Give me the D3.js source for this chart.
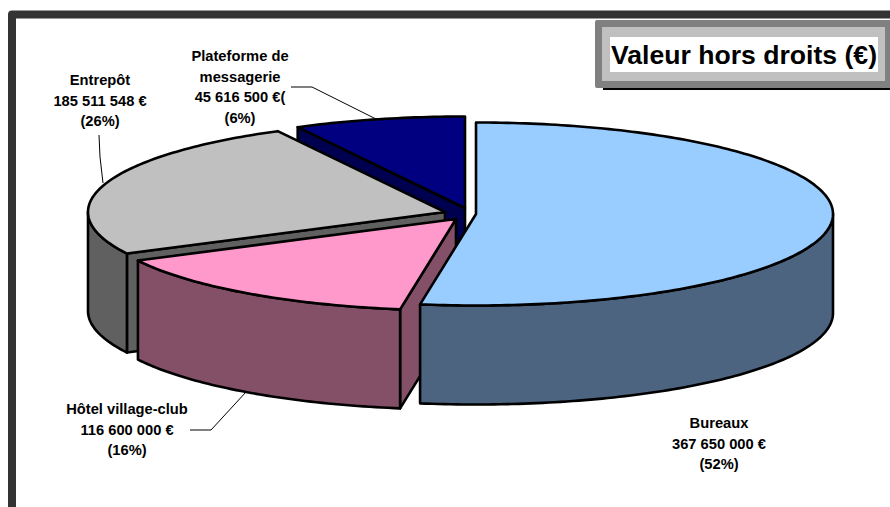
<!DOCTYPE html>
<html><head><meta charset="utf-8">
<style>html,body{margin:0;padding:0;background:#fff}svg{display:block}text{font-family:"Liberation Sans",Arial,sans-serif}</style>
<script src="https://cdnjs.cloudflare.com/ajax/libs/d3/7.8.5/d3.min.js"></script>
</head><body><svg id="c" width="890" height="507"></svg>
<script>
const categories = ["Bureaux","Hôtel village-club","Entrepôt","Plateforme de messagerie"];
const values = [367650000,116600000,185511548,45616500];
const topColors = ["#99CCFF","#FF99CC","#C0C0C0","#000080"];
const wallColors = ["#4D6480","#835068","#606060","#000050"];
const labelLines = [
  ["Bureaux","367 650 000 €","(52%)"],
  ["Hôtel village-club","116 600 000 €","(16%)"],
  ["Entrepôt","185 511 548 €","(26%)"],
  ["Plateforme de","messagerie","45 616 500 €(","(6%)"]
];
const titleText = "Valeur hors droits (€)";

const svg = d3.select("#c");
const rx = 357, ry = 91.5, depth = 99;
const apexes = [[476,214],[456,219],[445,212],[465,208]];
// Perspective correction of the 3-D view: true pie angle to drawn ellipse angle (degrees)
const warp = d3.scaleLinear().domain([0,185,243.7,337,360]).range([0,189,243,332,360]);
const arcs = d3.pie().value(d=>d).sort(null)(values);

function rim(c,deg,dz=0){const a=deg*Math.PI/180;return [c[0]+rx*Math.sin(a),c[1]-ry*Math.cos(a)+dz];}
function arcPts(c,a0,a1,dz){const n=Math.max(2,Math.ceil(Math.abs(a1-a0)));return d3.range(n+1).map(i=>rim(c,a0+(a1-a0)*i/n,dz));}
const line = d3.line();
function poly(p,fill,sw=2.6){svg.append("path").attr("d",line(p)+"Z").attr("fill",fill).attr("stroke","#000").attr("stroke-width",sw).attr("stroke-linejoin","round");}
function face(c,a,fill){const r=rim(c,a);poly([c,r,[r[0],r[1]+depth],[c[0],c[1]+depth]],fill);}

// frame
svg.append("path").attr("d","M12 507V14.5H890").attr("fill","none").attr("stroke","#333").attr("stroke-width",8).attr("stroke-linejoin","round");

// leader lines
const leaders=[[[99,135],[100,157],[103,183]],[[291,87],[312,87],[378,120]],[[190,430],[211,430],[246,392]]];
leaders.forEach(p=>svg.append("path").attr("d",line(p)).attr("fill","none").attr("stroke","#000").attr("stroke-width",1));

// slices, back to front; only the radial faces turned to the viewer are drawn
[3,2,1,0].forEach(i=>{
  const c=apexes[i], a0=warp(arcs[i].startAngle*180/Math.PI), a1=warp(arcs[i].endAngle*180/Math.PI);
  if(a0>180) face(c,a0,wallColors[i]);
  if(a1<180) face(c,a1,wallColors[i]);
  const w0=Math.max(a0,90), w1=Math.min(a1,270);
  if(w1>w0) poly(arcPts(c,w0,w1,0).concat(arcPts(c,w1,w0,depth)),wallColors[i]);
  poly([c].concat(arcPts(c,a0,a1,0)),topColors[i]);
});

// labels
const labelAnchors=[[719,428],[127,414],[100,85],[240,61]];
labelLines.forEach((ls,i)=>{
  const t=svg.append("text").attr("text-anchor","middle").attr("font-size",14.7).attr("font-weight","bold").attr("fill","#000");
  ls.forEach((s,j)=>t.append("tspan").attr("x",labelAnchors[i][0]).attr("y",labelAnchors[i][1]+j*20.5).text(s));
});

// title box
svg.append("rect").attr("x",603).attr("y",28).attr("width",290).attr("height",62).attr("fill","#000");
svg.append("rect").attr("x",595).attr("y",20).attr("width",300).attr("height",68).attr("rx",2).attr("fill","#808080");
svg.append("rect").attr("x",602).attr("y",27).attr("width",283).attr("height",54).attr("fill","#C0C0C0");
svg.append("rect").attr("x",610).attr("y",37).attr("width",268).attr("height",35).attr("fill","#fff");
svg.append("text").attr("x",744).attr("y",64).attr("text-anchor","middle").attr("font-size",26.6).attr("font-weight","bold").attr("fill","#000").text(titleText);
</script></body></html>
